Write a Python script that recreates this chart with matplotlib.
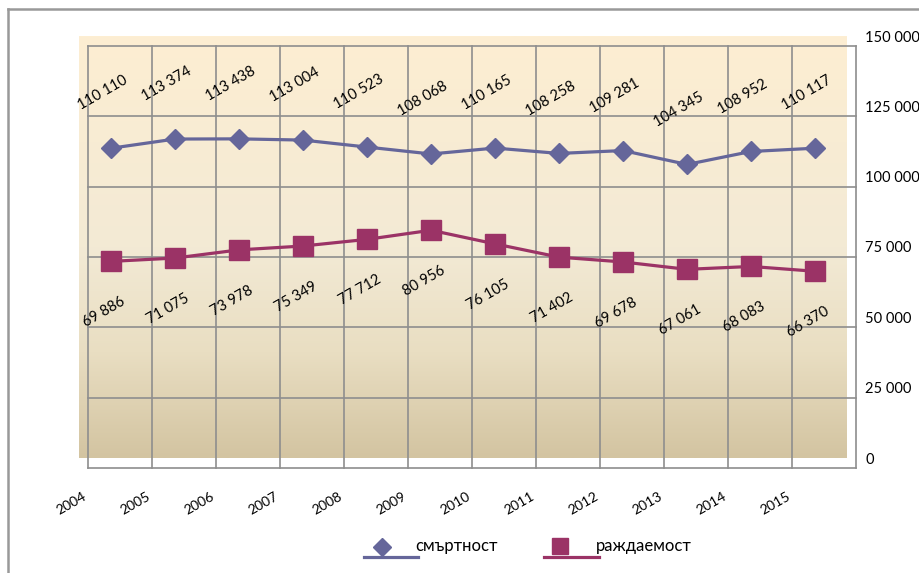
import numpy as np
import matplotlib.pyplot as plt
from matplotlib.lines import Line2D
from matplotlib.colors import LinearSegmentedColormap
from matplotlib.ticker import FuncFormatter
import matplotlib.transforms as mtransforms

plt.rcParams['font.family'] = ['Lato', 'DejaVu Sans']

# данни
years = ["2004", "2005", "2006", "2007", "2008", "2009",
         "2010", "2011", "2012", "2013", "2014", "2015"]
deaths = [110110, 113374, 113438, 113004, 110523, 108068,
          110165, 108258, 109281, 104345, 108952, 110117]
births = [69886, 71075, 73978, 75349, 77712, 80956,
          76105, 71402, 69678, 67061, 68083, 66370]
yticks = [0, 25000, 50000, 75000, 100000, 125000, 150000]
labels = ["смъртност", "раждаемост"]

c_deaths = "#65669A"
c_births = "#9B3366"
c_grid = "#8E8E8E"

W, H = 919, 573
fig = plt.figure(figsize=(W / 100, H / 100), dpi=100)

# плот (задна стена) в пиксели
L, R, T, B = 79, 847, 36, 458
ax = fig.add_axes([L / W, 1 - B / H, (R - L) / W, (B - T) / H])
ax.patch.set_alpha(0)
for s in ax.spines.values():
    s.set_visible(False)

# градиентен фон (светло горе, тъмно долу)
cmap = LinearSegmentedColormap.from_list(
    "bg", [(0.0, "#FDEED2"), (0.5, "#F3EAD5"), (0.75, "#E9DEC2"), (1.0, "#D3C4A1")])
grad = np.linspace(0, 1, 256).reshape(-1, 1)
ax.imshow(grad, cmap=cmap, aspect="auto", extent=[-0.5, len(years) - 0.5, 0, 150000],
          zorder=0, origin="upper")
ax.set_xlim(-0.5, len(years) - 0.5)
ax.set_ylim(0, 150000)

# мрежа, изместена (3D ефект)
px_x = len(years) / (R - L)
px_y = 150000 / (B - T)
dx, dy = 9 * px_x, 10 * px_y
x0, x1 = -0.5 + dx, len(years) - 0.5 + dx
for v in yticks:
    ax.plot([x0, x1], [v - dy, v - dy], color=c_grid, lw=1.2, zorder=1, clip_on=False)
for k in range(len(years) + 1):
    xv = -0.5 + k + dx
    ax.plot([xv, xv], [-dy, 150000 - dy], color=c_grid, lw=1.2, zorder=1, clip_on=False)

x = np.arange(len(years))
ax.plot(x, deaths, color=c_deaths, lw=2.3, marker="D", ms=10.5, zorder=3)
ax.plot(x, births, color=c_births, lw=2.3, marker="s", ms=14, zorder=3)

fmt = lambda v: f"{v:,}".replace(",", " ")
for xi, v in zip(x, deaths):
    ax.annotate(fmt(v), (xi, v), xytext=(-8, 55), textcoords="offset pixels",
                ha="center", va="center", rotation=30, rotation_mode="anchor",
                fontsize=10.5, zorder=4)
for xi, v in zip(x, births):
    ax.annotate(fmt(v), (xi, v), xytext=(-7, -51), textcoords="offset pixels",
                ha="center", va="center", rotation=30, rotation_mode="anchor",
                fontsize=10.5, zorder=4)

# ос Y вдясно
ax.set_xticks([])
ax.yaxis.tick_right()
ax.set_yticks(yticks)
ax.yaxis.set_major_formatter(FuncFormatter(lambda v, p: fmt(int(v))))
ax.tick_params(axis="y", length=0, pad=13, labelsize=10.5)

# години под оста
trans = mtransforms.blended_transform_factory(ax.transData, ax.transAxes)
for k, yr in enumerate(years):
    ax.text(-0.5 + k + 6 * px_x, -37 / (B - T), yr, transform=trans,
            ha="right", va="center", rotation=30, rotation_mode="anchor", fontsize=10)

# легенда
def fx(p):
    return p / W

def fy(p):
    return 1 - p / H

fig.add_artist(Line2D([fx(364), fx(418)], [fy(557), fy(557)], color=c_deaths, lw=2.3))
fig.add_artist(Line2D([fx(382)], [fy(547)], marker="D", ms=9, color=c_deaths, lw=0))
fig.text(fx(415), fy(546), labels[0], ha="left", va="center", fontsize=12)
fig.add_artist(Line2D([fx(544), fx(599)], [fy(557), fy(557)], color=c_births, lw=2.3))
fig.add_artist(Line2D([fx(560)], [fy(546)], marker="s", ms=11, color=c_births, lw=0))
fig.text(fx(596), fy(546), labels[1], ha="left", va="center", fontsize=12)

# рамка на диаграмата
fig.add_artist(Line2D([fx(8), fx(8)], [fy(9), 0], color="#999999", lw=1.8))
fig.add_artist(Line2D([fx(8), 1], [fy(9), fy(9)], color="#999999", lw=1.8))

fig.savefig("out.png", dpi=100)
